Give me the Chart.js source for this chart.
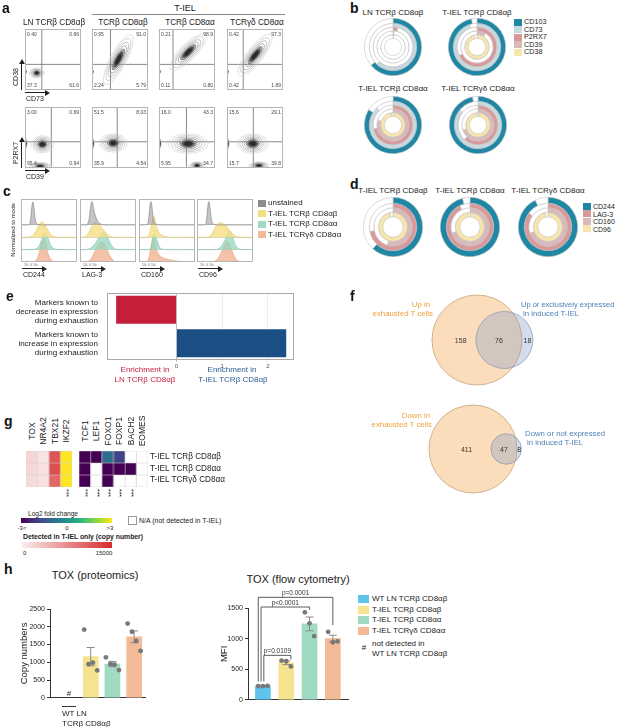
<!DOCTYPE html>
<html>
<head>
<meta charset="utf-8">
<script src="https://cdn.jsdelivr.net/npm/chart.js@4.4.1/dist/chart.umd.min.js"></script>
<style>
  html, body { margin: 0; padding: 0; background: #fff; }
  #fig { position: relative; width: 617px; height: 727px; overflow: hidden; font-family: "Liberation Sans", Arial, sans-serif; color: #222; }
  #fig canvas { position: absolute; }
  .t { position: absolute; white-space: nowrap; line-height: 1; color: #222; z-index: 2; }
</style>
</head>
<body>
<div id="fig"></div>
<script>
// ---- data ----

// a: flow plots (quadrant %: top-left, top-right, bottom-left, bottom-right)
const flowTitles = ['LN TCRβ CD8αβ', 'TCRβ CD8αβ', 'TCRβ CD8αα', 'TCRγδ CD8αα'];
const cd38Quadrants = [[0.40, 0.66, 37.3, 61.6], [0.95, 91.0, 2.24, 5.79], [0.21, 98.9, 0.11, 0.80], [0.42, 97.3, 0.42, 1.89]];
const p2rx7Quadrants = [[3.00, 0.69, 95.4, 0.94], [51.5, 8.03, 35.9, 4.54], [16.0, 43.3, 5.95, 34.7], [15.6, 29.1, 15.7, 39.8]];
const cd38Gates = [[30, 42], [33, 42], [25, 42], [29, 42]];
const p2rx7Gates = [[47, 43], [45, 43], [49, 43], [47, 43]];
// populations: centre and spread in axis units (0-100), tilt in degrees
const cd38Pops = [
  [{ x: 21, y: 28, sx: 13, sy: 8, rot: 0 }, { x: 1, y: 30, sx: 1.5, sy: 4, rot: 0 }],
  [{ x: 47, y: 50, sx: 50, sy: 13, rot: -62 }, { x: 1, y: 30, sx: 1.5, sy: 4, rot: 0 }],
  [{ x: 52, y: 62, sx: 44, sy: 13, rot: -45 }, { x: 1, y: 30, sx: 1.5, sy: 4, rot: 0 }],
  [{ x: 50, y: 57, sx: 46, sy: 13, rot: -52 }, { x: 1, y: 30, sx: 1.5, sy: 4, rot: 0 }]
];
const p2rx7Pops = [
  [{ x: 31, y: 39, sx: 20, sy: 14, rot: 0 }, { x: 27, y: 3, sx: 20, sy: 6, rot: 0 }, { x: 1.5, y: 40, sx: 2, sy: 8, rot: 0 }],
  [{ x: 38, y: 41, sx: 25, sy: 15, rot: 0 }, { x: 1.5, y: 40, sx: 2, sy: 9, rot: 0 }],
  [{ x: 52, y: 40, sx: 36, sy: 16, rot: 0 }, { x: 68, y: 4, sx: 14, sy: 6, rot: 0 }, { x: 1.5, y: 40, sx: 2, sy: 9, rot: 0 }],
  [{ x: 46, y: 40, sx: 28, sy: 16, rot: 0 }, { x: 57, y: 4, sx: 18, sy: 6, rot: 0 }, { x: 1.5, y: 40, sx: 2, sy: 9, rot: 0 }]
];

// b: % positive per ring, outer to inner
const bMarkers = ['CD103', 'CD73', 'P2RX7', 'CD39', 'CD38'];
const bGroups = ['LN TCRβ CD8αβ', 'T-IEL TCRβ CD8αβ', 'T-IEL TCRβ CD8αα', 'T-IEL TCRγδ CD8αα'];
const bPercent = [[64, 62, 4, 1, 1], [97, 95, 68, 9, 96], [84, 88, 72, 80, 98], [97, 86, 62, 70, 98]];

// c: histograms (normalized to mode), 20 bins on the log axis
const histMarkers = ['CD244', 'LAG-3', 'CD160', 'CD96'];
const histGroups = ['unstained', 'T-IEL TCRβ CD8αβ', 'T-IEL TCRβ CD8αα', 'T-IEL TCRγδ CD8αα'];
const cd244Hist = [
  [0, 0, 0, 0.1, 1.85, 0.25, 0.03, 0, 0, 0, 0, 0, 0, 0, 0, 0, 0, 0, 0, 0],
  [0, 0, 0, 0.03, 0.15, 0.45, 0.95, 1.25, 1.05, 0.6, 0.25, 0.08, 0.02, 0, 0, 0, 0, 0, 0, 0],
  [0, 0, 0, 0, 0, 0.05, 0.25, 0.8, 1.4, 1.05, 0.4, 0.1, 0.02, 0, 0, 0, 0, 0, 0, 0],
  [0, 0, 0, 0, 0, 0.1, 0.55, 1.6, 1.9, 0.8, 0.25, 0.05, 0, 0, 0, 0, 0, 0, 0, 0]
];
const lag3Hist = [
  [0, 0, 0, 0.35, 1.9, 0.9, 0.3, 0.08, 0, 0, 0, 0, 0, 0, 0, 0, 0, 0, 0, 0],
  [0, 0, 0.08, 0.4, 0.85, 1.15, 1.1, 0.9, 0.6, 0.3, 0.1, 0.02, 0, 0, 0, 0, 0, 0, 0, 0],
  [0, 0, 0, 0.05, 0.2, 0.45, 0.8, 1.2, 1.4, 1.15, 0.65, 0.25, 0.05, 0, 0, 0, 0, 0, 0, 0],
  [0, 0, 0, 0.08, 0.35, 0.85, 1.3, 1.6, 1.55, 1.1, 0.55, 0.18, 0.03, 0, 0, 0, 0, 0, 0, 0]
];
const cd160Hist = [
  [0, 0, 0, 0.1, 1.9, 0.35, 0.05, 0, 0, 0, 0, 0, 0, 0, 0, 0, 0, 0, 0, 0],
  [0, 0, 0, 0.05, 0.7, 1.7, 0.75, 0.3, 0.15, 0.06, 0, 0, 0, 0, 0, 0, 0, 0, 0, 0],
  [0, 0, 0, 0, 0.15, 1.3, 0.85, 0.2, 0.04, 0, 0, 0, 0, 0, 0, 0, 0, 0, 0, 0],
  [0, 0, 0, 0.08, 1.1, 2.0, 0.95, 0.5, 0.35, 0.25, 0.2, 0.15, 0.1, 0.07, 0.04, 0.02, 0, 0, 0, 0]
];
const cd96Hist = [
  [0, 0, 0, 0.1, 1.9, 0.3, 0.04, 0, 0, 0, 0, 0, 0, 0, 0, 0, 0, 0, 0, 0],
  [0, 0, 0, 0, 0.05, 0.25, 0.7, 1.05, 1.2, 1.05, 0.9, 0.6, 0.3, 0.1, 0.03, 0, 0, 0, 0, 0],
  [0, 0, 0, 0, 0, 0, 0, 0.05, 0.2, 0.55, 1.05, 1.5, 1.05, 0.4, 0.1, 0.02, 0, 0, 0, 0],
  [0, 0, 0, 0, 0, 0, 0.05, 0.25, 0.65, 1.15, 1.65, 1.5, 0.8, 0.3, 0.08, 0, 0, 0, 0, 0]
];

// d
const dMarkers = ['CD244', 'LAG-3', 'CD160', 'CD96'];
const dGroups = ['T-IEL TCRβ CD8αβ', 'T-IEL TCRβ CD8αα', 'T-IEL TCRγδ CD8αα'];
const dPercent = [[62, 72, 55, 97], [96, 93, 70, 98], [93, 85, 70, 97]];

// e
const enrichCategories = [
  ['Markers known to', 'decrease in expression', 'during exhaustion'],
  ['Markers known to', 'increase in expression', 'during exhaustion']
];
const enrichScores = [-1.32, 2.4];

// f: [only exhausted, overlap, only T-IEL]
const vennUp = [158, 76, 18];
const vennDown = [411, 47, 8];

// g
const heatRows = ['T-IEL TCRβ CD8αβ', 'T-IEL TCRβ CD8αα', 'T-IEL TCRγδ CD8αα'];
const copyGenes = ['TOX', 'NR4A2', 'TBX21'];
const copyNumbers = [[1900, 900, 11800], [1700, 1000, 12300], [1500, 950, 10500]];
const fcGenes = ['IKZF2', 'TCF1', 'LEF1', 'FOXO1', 'FOXP1', 'BACH2', 'EOMES'];
const log2FC = [
  [3.5, -3.5, -3.3, -0.9, -1.8, null, null],
  [3.5, -3.2, null, -3.1, -3.2, -3.2, null],
  [3.5, -3.2, null, -3.1, null, null, null]
];
const sigGenes = ['IKZF2', 'TCF1', 'LEF1', 'FOXO1', 'FOXP1', 'BACH2'];

// h
const hGroups = ['WT LN TCRβ CD8αβ', 'T-IEL TCRβ CD8αβ', 'T-IEL TCRβ CD8αα', 'T-IEL TCRγδ CD8αα'];
const toxCopyNumbers = [[], [1920, 950, 990, 770], [1140, 950, 930, 780], [2090, 1860, 1600, 1320]];
const toxMFI = [[225, 222, 228], [640, 630, 545], [1430, 1250, 1040], [1110, 940, 955]];
const mfiComparisons = [
  { a: 0, b: 3, y: 1674, ya: 300, yb: 1220, label: 'p=0.0001' },
  { a: 0, b: 2, y: 1516, ya: 300, yb: 1470, label: 'p<0.0001' },
  { a: 0, b: 1, y: 726, ya: 300, yb: 660, label: 'p=0.0109' }
];

// ---- colours ----
const TEAL = '#1f86a4', PINK = '#d9999a', PALEPINK = '#d9babb', PALEYELLOW = '#f7e5ae';
const bColors = [TEAL, '#c7d8de', PINK, PALEPINK, PALEYELLOW];
const dColors = [TEAL, PINK, PALEPINK, PALEYELLOW];
const histFill = ['rgba(150,150,150,0.55)', 'rgba(244,222,130,0.8)', 'rgba(150,215,190,0.75)', 'rgba(240,172,140,0.75)'];
const histEdge = ['#8a8a8a', '#e6cc6a', '#86cdb0', '#e6a283'];
const hColors = ['#5ec4ec', '#f6e390', '#a0dac2', '#f2ba96'];
const VIRIDIS = ['#440154', '#482878', '#3e4a89', '#31688e', '#26828e', '#1f9e89', '#35b779', '#6ece58', '#b5de2b', '#fde725'];

// ---- helpers ----
Chart.defaults.font.family = '"Liberation Sans", Arial, sans-serif';
Chart.defaults.animation = false;
Chart.defaults.plugins.legend.display = false;
Chart.defaults.plugins.tooltip.enabled = false;
Chart.defaults.color = '#333';

const fig = document.getElementById('fig');
function canvasAt(x, y, w, h) {
  const c = document.createElement('canvas');
  c.width = w; c.height = h;
  c.style.left = x + 'px'; c.style.top = y + 'px';
  c.style.width = w + 'px'; c.style.height = h + 'px';
  fig.appendChild(c);
  return c;
}
function box(x, y, w, h, css) {
  const d = document.createElement('div');
  d.style.cssText = `position:absolute;left:${x}px;top:${y}px;width:${w}px;height:${h}px;${css}`;
  fig.appendChild(d);
  return d;
}
function text(x, y, s, o = {}) {
  const d = document.createElement('div');
  d.className = 't';
  d.textContent = s;
  const ax = o.align === 'left' ? '0' : o.align === 'right' ? '-100%' : '-50%';
  d.style.left = x + 'px'; d.style.top = y + 'px';
  d.style.fontSize = (o.size || 8) + 'px';
  d.style.color = o.color || '#222';
  if (o.bold) d.style.fontWeight = 'bold';
  d.style.transform = `translate(${ax},-50%)` + (o.rot ? ` rotate(${o.rot}deg)` : '');
  fig.appendChild(d);
  return d;
}
function panelLabel(x, y, s) { text(x, y, s, { size: 14, bold: true, align: 'left', color: '#111' }); }
function arrowRight(x, y, len) {
  box(x, y, len, 1, 'background:#222');
  box(x + len, y - 2.5, 0, 0, 'border-left:5px solid #222;border-top:3px solid transparent;border-bottom:3px solid transparent');
}
function arrowUp(x, y, len) {
  box(x, y - len, 1, len, 'background:#222');
  box(x - 2.5, y - len - 5, 0, 0, 'border-bottom:5px solid #222;border-left:3px solid transparent;border-right:3px solid transparent');
}
function hex2rgb(h) { const n = parseInt(h.slice(1), 16); return [n >> 16, (n >> 8) & 255, n & 255]; }
function mix(a, b, t) {
  const p = hex2rgb(a), q = hex2rgb(b);
  return `rgb(${p.map((v, i) => Math.round(v + (q[i] - v) * t)).join(',')})`;
}
function viridis(t) {
  t = Math.max(0, Math.min(1, t));
  const p = t * (VIRIDIS.length - 1), i = Math.min(Math.floor(p), VIRIDIS.length - 2);
  return mix(VIRIDIS[i], VIRIDIS[i + 1], p - i);
}
const fcColor = v => v == null ? '#ffffff' : viridis((v + 3) / 6);
const copyColor = v => mix('#fbeeee', '#d62b2b', Math.min(1, v / 15000));

const framePlugin = {
  id: 'frame',
  afterDraw(chart, args, o) {
    const a = chart.chartArea, ctx = chart.ctx;
    ctx.save();
    ctx.strokeStyle = o.color || '#aaa';
    ctx.lineWidth = 1;
    ctx.strokeRect(a.left + 0.5, a.top + 0.5, a.width - 1, a.height - 1);
    ctx.restore();
  }
};

// ---- a: contour plots ----
const LEVELS = [1, 0.84, 0.69, 0.55, 0.42, 0.3, 0.19];
const SHADES = ['#cccccc', '#b4b4b4', '#9a9a9a', '#808080', '#5e5e5e', '#404040', '#262626'];
const contourPlugin = {
  id: 'contour',
  afterDatasetsDraw(chart, args, o) {
    const { ctx, chartArea: a, scales: { x, y } } = chart;
    ctx.save();
    ctx.beginPath(); ctx.rect(a.left, a.top, a.width, a.height); ctx.clip();
    const gx = x.getPixelForValue(o.gate[0]), gy = y.getPixelForValue(o.gate[1]);
    ctx.strokeStyle = '#7a7a7a'; ctx.lineWidth = 0.9;
    ctx.beginPath(); ctx.moveTo(gx, a.top); ctx.lineTo(gx, a.bottom); ctx.moveTo(a.left, gy); ctx.lineTo(a.right, gy); ctx.stroke();
    ctx.lineWidth = 0.6;
    o.pops.forEach(p => {
      const cx = x.getPixelForValue(p.x), cy = y.getPixelForValue(p.y);
      const rx = Math.abs(x.getPixelForValue(p.sx) - x.getPixelForValue(0));
      const ry = Math.abs(y.getPixelForValue(p.sy) - y.getPixelForValue(0));
      LEVELS.forEach((s, k) => {
        ctx.beginPath();
        ctx.ellipse(cx, cy, rx * s, ry * s, p.rot * Math.PI / 180, 0, Math.PI * 2);
        if (k >= 4) { ctx.fillStyle = ['#a8a8a8', '#5a5a5a', '#2a2a2a'][k - 4]; ctx.fill(); }
        ctx.strokeStyle = SHADES[k];
        ctx.stroke();
      });
    });
    ctx.restore();
  }
};
function contourPlot(left, top, pops, gate, quads) {
  const w = 56, h = 61;
  const c = canvasAt(left, top, w, h);
  new Chart(c, {
    type: 'scatter',
    data: { datasets: [{ data: pops.map(p => ({ x: p.x, y: p.y })), pointRadius: 0 }] },
    options: {
      responsive: false,
      layout: { padding: 0 },
      scales: { x: { display: false, min: 0, max: 100 }, y: { display: false, min: 0, max: 100 } },
      plugins: { contour: { pops, gate }, frame: { color: '#b5b5b5' } }
    },
    plugins: [contourPlugin, framePlugin]
  });
  const f = v => v.toFixed(v >= 10 ? 1 : 2);
  const o = { size: 5, color: '#444' };
  text(left + 2, top + 5, f(quads[0]), { ...o, align: 'left' });
  text(left + w - 2, top + 5, f(quads[1]), { ...o, align: 'right' });
  text(left + 2, top + h - 5, f(quads[2]), { ...o, align: 'left' });
  text(left + w - 2, top + h - 5, f(quads[3]), { ...o, align: 'right' });
}

panelLabel(2, 8, 'a');
text(185, 8, 'T-IEL', { size: 9 });
box(92, 14, 193, 1, 'background:#888');
const flowX = [25, 92, 159, 227];
const flowTitleX = [54, 123, 190, 257];
flowTitles.forEach((t, i) => {
  text(flowTitleX[i], 23, t, { size: 8.2 });
  contourPlot(flowX[i], 29, cd38Pops[i], cd38Gates[i], cd38Quadrants[i]);
  contourPlot(flowX[i], 107, p2rx7Pops[i], p2rx7Gates[i], p2rx7Quadrants[i]);
});
arrowUp(21, 90, 26); text(15, 77, 'CD38', { size: 7, rot: -90 });
arrowRight(25, 92, 20); text(26, 98, 'CD73', { size: 7, align: 'left' });
arrowUp(21, 168, 26); text(15, 153, 'P2RX7', { size: 7, rot: -90 });
arrowRight(25, 170, 20); text(26, 176, 'CD39', { size: 7, align: 'left' });

// ---- b and d: ring charts ----
function rings(cx, cy, r, values, colors, cutout) {
  const c = canvasAt(cx - r - 1, cy - r - 1, 2 * r + 2, 2 * r + 2);
  new Chart(c, {
    type: 'doughnut',
    data: {
      datasets: values.map((v, i) => ({
        data: [v, 100 - v],
        backgroundColor: [colors[i], '#ffffff'],
        borderColor: '#c4c4c4',
        borderWidth: 0.6,
        weight: i === 0 ? 1.3 : 1
      }))
    },
    options: { responsive: false, cutout, layout: { padding: 0 } }
  });
}
function legend(x, y, step, labels, colors, size) {
  labels.forEach((l, i) => {
    box(x, y + i * step - 3.5, 8, 7, `background:${colors[i]}`);
    text(x + 10, y + i * step, l, { size, align: 'left' });
  });
}

const bCenters = [[393, 47], [477, 47], [393, 125], [478, 125]];
const bTitleY = [13, 13, 89, 89];
bGroups.forEach((g, i) => rings(bCenters[i][0], bCenters[i][1], 28, bPercent[i], bColors, '30%'));
bGroups.forEach((g, i) => text(Math.round(bCenters[i][0]), bTitleY[i], g, { size: 8, color: '#222222' }));
panelLabel(350, 8, 'b');
legend(514, 22, 7.5, bMarkers, bColors, 7.2);

panelLabel(350, 184, 'd');
const dCentersX = [393, 470, 548];
dGroups.forEach((g, i) => {
  text(dCentersX[i], 191, g, { size: 8 });
  rings(dCentersX[i], 227, 29, dPercent[i], dColors, '34%');
});
legend(583, 206, 7.5, dMarkers, dColors, 7);

// ---- c: histograms ----
panelLabel(3, 191, 'c');
const histData = [cd244Hist, lag3Hist, cd160Hist, cd96Hist];
const histOffsets = [3, 2, 1, 0];
const histX = [21, 80, 139, 197];
histMarkers.forEach((m, i) => {
  const c = canvasAt(histX[i], 199, 56, 63);
  new Chart(c, {
    type: 'line',
    data: {
      labels: histData[i][0].map((_, k) => k),
      datasets: histGroups.map((g, k) => ({
        label: g,
        data: histData[i][k].map(v => v + histOffsets[k]),
        fill: { value: histOffsets[k] },
        backgroundColor: histFill[k],
        borderColor: histEdge[k],
        borderWidth: 0.7,
        pointRadius: 0,
        cubicInterpolationMode: 'monotone'
      }))
    },
    options: {
      responsive: false,
      layout: { padding: 0 },
      scales: {
        x: { display: false },
        y: {
          min: 0, max: 5.1,
          ticks: { display: false, stepSize: 1 },
          grid: { drawTicks: false, color: ctx => [1, 2, 3].includes(ctx.tick && ctx.tick.value) ? '#d2d2d2' : 'rgba(0,0,0,0)' },
          border: { display: false },
          afterFit: s => { s.width = 0; }
        }
      },
      plugins: { frame: { color: '#b5b5b5' } }
    },
    plugins: [framePlugin]
  });
  text(histX[i] + 3, 266, '10³  0  10³', { size: 3.5, align: 'left', color: '#666' });
  arrowRight(histX[i] + 1, 268, 20);
  text(histX[i] + 2, 274, m, { size: 7, align: 'left' });
});
text(13, 230, 'Normalized to mode', { size: 6, rot: -90 });
legend(258, 203, 10.5, histGroups, ['#8c8c8c', '#f4de82', '#a0dac2', '#f2ba96'], 8);

// ---- e: enrichment bars ----
panelLabel(6, 296, 'e');
const eCanvas = canvasAt(107, 293, 187, 80);
new Chart(eCanvas, {
  type: 'bar',
  data: {
    labels: enrichCategories.map(c => c.join(' ')),
    datasets: [{ data: enrichScores, backgroundColor: ['#c41f3b', '#1b4f85'], barPercentage: 0.84, categoryPercentage: 1 }]
  },
  options: {
    responsive: false,
    indexAxis: 'y',
    layout: { padding: 0 },
    scales: {
      x: {
        min: -1.52, max: 2.57,
        afterBuildTicks: s => { s.ticks = s.ticks.filter(t => Number.isInteger(t.value)); },
        ticks: { stepSize: 1, callback: v => Math.abs(v), font: { size: 6 }, color: '#555', padding: 1 },
        grid: { color: ctx => ctx.tick && ctx.tick.value === 0 ? '#bdbdbd' : '#ececec', tickLength: 2 },
        border: { display: false },
        afterFit: s => { s.height = 13; }
      },
      y: { display: false }
    },
    plugins: { frame: { color: '#aaa' } }
  },
  plugins: [framePlugin]
});
enrichCategories.forEach((lines, i) => {
  lines.forEach((l, j) => text(98, 303 + i * 32 + j * 9.2, l, { size: 8, align: 'right' }));
});
text(145, 370, 'Enrichment in', { size: 8, color: '#c41f3b' });
text(145, 380, 'LN TCRβ CD8αβ', { size: 8, color: '#c41f3b' });
text(232, 370, 'Enrichment in', { size: 8, color: '#2a5d93' });
text(233, 380, 'T-IEL TCRβ CD8αβ', { size: 8, color: '#2a5d93' });

// ---- f: Venn diagrams ----
panelLabel(350, 296, 'f');
const fLeft = 352, fTop = 288, fW = 265, fH = 215;
function vennGeometry(counts, cx, cy, R) {
  const totA = counts[0] + counts[1], totB = counts[1] + counts[2];
  const r = R * Math.sqrt(totB / totA);
  const d = R - r + 2 * r * counts[2] / totB;
  return {
    big: { x: cx, y: cy, r: R },
    small: { x: cx + d, y: cy, r },
    labels: [
      { x: (cx - R + cx + d - r) / 2 + R * 0.15, y: cy, t: counts[0] },
      { x: (cx + d - r + cx + R) / 2, y: cy, t: counts[1] },
      { x: (cx + R + cx + d + r) / 2, y: cy, t: counts[2] }
    ]
  };
}
const vUp = vennGeometry(vennUp, 125, 52, 45);
const vDown = vennGeometry(vennDown, 121, 161, 44);
new Chart(canvasAt(fLeft, fTop, fW, fH), {
  type: 'bubble',
  data: {
    datasets: [
      { data: [vUp.small, vDown.small], backgroundColor: 'rgba(120,150,200,0.32)', borderColor: '#8196b4', borderWidth: 0.7, order: 1 },
      { data: [vUp.big, vDown.big], backgroundColor: 'rgba(250,200,145,0.62)', borderColor: '#c09a73', borderWidth: 0.7, order: 2 }
    ]
  },
  options: {
    responsive: false,
    layout: { padding: 0, autoPadding: false },
    scales: { x: { display: false, min: 0, max: fW }, y: { display: false, min: 0, max: fH, reverse: true } }
  }
});
[vUp, vDown].forEach(v => v.labels.forEach(l => text(fLeft + l.x, fTop + l.y, String(l.t), { size: 7, color: '#333' })));
const ORANGE = '#f0a03a', BLUE = '#4d82b8';
text(430, 305, 'Up in', { size: 7.8, color: ORANGE, align: 'right' });
text(433, 314, 'exhausted T cells', { size: 7.8, color: ORANGE, align: 'right' });
text(521, 305, 'Up or exclusively expressed', { size: 7.5, color: BLUE, align: 'left' });
text(523, 314, 'in induced T-IEL', { size: 7.8, color: BLUE, align: 'left' });
text(430, 416, 'Down in', { size: 7.8, color: ORANGE, align: 'right' });
text(432, 425, 'exhausted T cells', { size: 7.8, color: ORANGE, align: 'right' });
text(525, 434, 'Down or not expressed', { size: 7.8, color: BLUE, align: 'left' });
text(527, 443, 'in induced T-IEL', { size: 7.8, color: BLUE, align: 'left' });

// ---- g: heatmap ----
panelLabel(4, 421, 'g');
function heat(left, labels, colorRows) {
  const w = labels.length * 11.45 + 2;
  const c = canvasAt(left - 1, 450, w, 38);
  new Chart(c, {
    type: 'bar',
    data: {
      labels,
      datasets: colorRows.map((cols, r) => ({
        label: heatRows[r],
        data: labels.map(() => 1),
        backgroundColor: cols,
        borderColor: '#d0d0d0',
        borderWidth: 0.6,
        borderSkipped: false,
        barPercentage: 1,
        categoryPercentage: 1
      }))
    },
    options: {
      responsive: false,
      layout: { padding: 1 },
      scales: {
        x: { stacked: true, display: false },
        y: { stacked: true, reverse: true, display: false, min: 0, max: 3 }
      }
    }
  });
  labels.forEach((g, i) => text(left + (i + 0.5) * 11.45, 431, g, { size: 8.5, rot: -90 }));
}
heat(26, [...copyGenes, fcGenes[0]], copyNumbers.map((row, r) => [...row.map(copyColor), fcColor(log2FC[r][0])]));
heat(79, fcGenes.slice(1), log2FC.map(row => row.slice(1).map(fcColor)));
heatRows.forEach((r, i) => text(150, 457 + i * 11.6, r, { size: 8.2, align: 'left' }));
const colX = { IKZF2: 66, TCF1: 85, LEF1: 97, FOXO1: 108, FOXP1: 119, BACH2: 131 };
sigGenes.forEach(g => text(colX[g], 493, '***', { size: 7, rot: 90 }));
text(53, 514, 'Log2 fold change', { size: 6.5 });
box(21, 518, 91, 5, `background:linear-gradient(to right,${VIRIDIS.join(',')})`);
text(22, 528, '-3<', { size: 6 });
text(67, 528, '0', { size: 6 });
text(110, 528, '>3', { size: 6 });
box(128, 516, 7, 7, 'border:0.8px solid #999;background:#fff');
text(139, 520, 'N/A (not detected in T-IEL)', { size: 7, align: 'left' });
text(23, 537, 'Detected in T-IEL only (copy number)', { size: 6.8, bold: true, align: 'left' });
box(22, 542, 90, 6, 'background:linear-gradient(to right,#fbeeee,#d62b2b)');
text(23, 553, '0', { size: 6, align: 'left' });
text(104, 553, '15000', { size: 6 });

// ---- h: TOX bar charts ----
panelLabel(4, 569, 'h');
function stats(pts) {
  if (!pts.length) return null;
  const m = pts.reduce((s, v) => s + v, 0) / pts.length;
  const sd = Math.sqrt(pts.reduce((s, v) => s + (v - m) * (v - m), 0) / (pts.length - 1));
  return { mean: m, sem: sd / Math.sqrt(pts.length) };
}
const errorBarPlugin = {
  id: 'errorBars',
  afterDatasetDraw(chart, args, o) {
    if (args.index !== 0) return;
    const { ctx, scales: { x, y } } = chart;
    ctx.save();
    ctx.strokeStyle = '#8a8a8a'; ctx.lineWidth = 1;
    o.stats.forEach((s, i) => {
      if (!s) return;
      const px = x.getPixelForValue(i), top = y.getPixelForValue(s.mean + s.sem), bot = y.getPixelForValue(s.mean - s.sem);
      ctx.beginPath();
      ctx.moveTo(px, top); ctx.lineTo(px, bot);
      ctx.moveTo(px - 4, top); ctx.lineTo(px + 4, top);
      ctx.moveTo(px - 4, bot); ctx.lineTo(px + 4, bot);
      ctx.stroke();
    });
    ctx.restore();
  }
};
const bracketPlugin = {
  id: 'brackets',
  afterDraw(chart, args, o) {
    if (!o.comparisons) return;
    const { ctx, scales: { x, y } } = chart;
    ctx.save();
    ctx.strokeStyle = '#333'; ctx.fillStyle = '#333'; ctx.lineWidth = 0.8;
    ctx.font = '6.5px "Liberation Sans", Arial';
    ctx.textAlign = 'center'; ctx.textBaseline = 'bottom';
    o.comparisons.forEach((c, k) => {
      const xa = x.getPixelForValue(c.a - 0.2 + k * 0.12), xb = x.getPixelForValue(c.b + (c.b === 1 ? 0.2 : 0));
      const yy = y.getPixelForValue(c.y);
      ctx.beginPath();
      ctx.moveTo(xa, y.getPixelForValue(c.ya)); ctx.lineTo(xa, yy); ctx.lineTo(xb, yy); ctx.lineTo(xb, y.getPixelForValue(c.yb));
      ctx.stroke();
      ctx.fillText(c.label, (xa + xb) / 2, yy - 1);
    });
    ctx.restore();
  }
};
function dotBar(left, top, w, h, groups, yMax, step, yTitle, axisW, padTop, padRight, xMin, xMax, comparisons) {
  const st = groups.map(stats);
  const c = canvasAt(left, top, w, h);
  new Chart(c, {
    data: {
      datasets: [
        {
          type: 'bar',
          data: st.map((s, i) => s && { x: i, y: s.mean }).filter(Boolean),
          backgroundColor: ctx => hColors[ctx.raw.x],
          barThickness: 15,
          order: 2
        },
        {
          type: 'scatter',
          data: groups.flatMap((pts, i) => pts.map((v, j) => ({ x: i + (j - (pts.length - 1) / 2) * 0.2, y: v }))),
          backgroundColor: '#787878',
          borderWidth: 0,
          pointRadius: 2.4,
          order: 1
        }
      ]
    },
    options: {
      responsive: false,
      layout: { padding: { top: padTop, right: padRight, left: 0, bottom: 0 } },
      scales: {
        x: {
          type: 'linear', min: xMin, max: xMax, offset: false,
          ticks: { display: false }, grid: { display: false, offset: false },
          border: { color: '#333' },
          afterFit: s => { s.height = 3; }
        },
        y: {
          min: 0, max: yMax,
          ticks: { stepSize: step, font: { size: 7 }, color: '#222', padding: 2, callback: v => String(v) },
          grid: { drawOnChartArea: false, tickLength: 3, color: '#333' },
          border: { color: '#333' },
          title: { display: true, text: yTitle, font: { size: 9.5 }, color: '#222', padding: 0 },
          afterFit: s => { s.width = axisW; }
        }
      },
      plugins: { errorBars: { stats: st }, brackets: { comparisons } }
    },
    plugins: [errorBarPlugin, bracketPlugin]
  });
}
text(95, 575, 'TOX (proteomics)', { size: 11 });
dotBar(19, 598, 131, 106, toxCopyNumbers, 2500, 500, 'Copy numbers', 31, 11, 5, -0.875, 3.5, null);
text(69, 694, '#', { size: 8 });
box(62, 706, 14, 1, 'background:#333');
text(62, 714, 'WT LN', { size: 8, align: 'left' });
text(62, 724, 'TCRβ CD8αβ', { size: 8, align: 'left' });

text(298, 579, 'TOX (flow cytometry)', { size: 11 });
dotBar(219, 585, 133, 121, toxMFI, 1500, 500, 'MFI', 29, 23, 4, -0.64, 3.65, mfiComparisons);

hGroups.forEach((g, i) => {
  box(358, 599 + i * 10.7 - 4, 11, 8, `background:${hColors[i]}`);
  text(372, 599 + i * 10.7, g, { size: 8, align: 'left' });
});
text(364, 648, '#', { size: 8 });
text(372, 644, 'not detected in', { size: 8, align: 'left' });
text(372, 654, 'WT LN TCRβ CD8αβ', { size: 8, align: 'left' });
</script>
</body>
</html>
